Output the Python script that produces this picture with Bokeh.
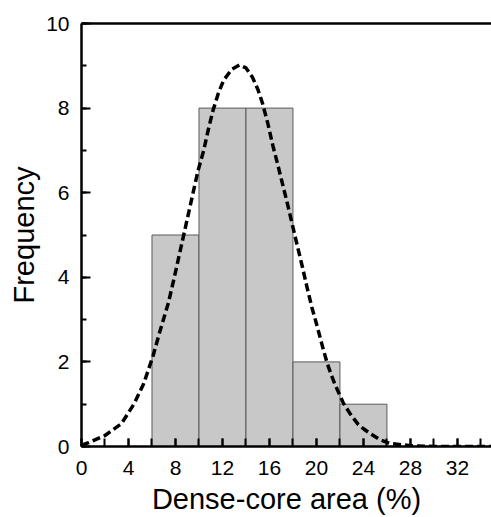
from bokeh.plotting import figure
from bokeh.models import Range1d, SingleIntervalTicker, LinearAxis
from bokeh.embed import file_html
from bokeh.resources import INLINE

# Histogram data
bin_left = [6, 10, 14, 18, 22]
bin_right = [10, 14, 18, 22, 26]
counts = [5, 8, 8, 2, 1]

# Fitted curve
curve_x = [0, 0.6, 2.0, 3.4, 4.5, 5.3, 6.1, 6.6, 7.4, 7.9, 8.3, 8.7, 9.1, 9.5, 9.9, 10.4,
           10.8, 11.2, 11.65, 12.1, 12.8, 13.45, 14.0, 14.55, 15.0, 15.4, 15.85, 16.3, 16.7,
           17.1, 17.45, 17.8, 18.4, 18.8, 19.2, 19.6, 20.1, 20.5, 20.9, 21.25, 21.6, 22.3,
           22.9, 23.5, 24.0, 24.6, 25.4, 26.3, 28, 30, 32, 35]
curve_y = [0.03, 0.09, 0.26, 0.54, 1.02, 1.49, 2.15, 2.65, 3.4, 4.0, 4.5, 5.0, 5.5, 6.0, 6.5,
           7.0, 7.5, 7.95, 8.35, 8.66, 8.92, 9.02, 8.95, 8.73, 8.45, 8.12, 7.65, 7.1, 6.67,
           6.22, 5.83, 5.42, 4.71, 4.25, 3.76, 3.3, 2.8, 2.38, 1.98, 1.7, 1.45, 1.02, 0.76,
           0.54, 0.42, 0.3, 0.16, 0.07, 0.02, 0.0, 0.0, 0.0]

FONT = "Liberation Sans"

p = figure(width=491, height=517, output_backend="svg", toolbar_location=None,
           x_range=Range1d(0, 34.9), y_range=Range1d(0, 10),
           min_border_left=81, min_border_right=0, min_border_top=23, min_border_bottom=71,
           x_axis_label="Dense-core area (%)", y_axis_label="Frequency")
p.outline_line_color = None
p.xgrid.visible = False
p.ygrid.visible = False
p.background_fill_color = "white"
p.border_fill_color = "white"

p.quad(left=bin_left, right=bin_right, top=counts, bottom=0,
       fill_color="#c8c8c8", line_color="#5a5a5a", line_width=1)

p.line(curve_x, curve_y, line_color="black", line_width=3.5, line_dash="8 4",
       line_join="round")

# x axis
xa = p.xaxis[0]
xa.ticker = SingleIntervalTicker(interval=4, num_minor_ticks=2)
# y axis
ya = p.yaxis[0]
ya.ticker = SingleIntervalTicker(interval=2, num_minor_ticks=2)

for ax in (xa, ya):
    ax.axis_line_width = 2.5
    ax.axis_line_color = "black"
    ax.major_tick_in = 9
    ax.major_tick_out = 0
    ax.minor_tick_out = 0
    ax.major_tick_line_width = 2
    ax.minor_tick_line_width = 2
    ax.major_tick_line_color = "black"
    ax.minor_tick_line_color = "black"
    ax.major_label_text_font = FONT
    ax.major_label_text_font_size = "21px"
    ax.major_label_text_color = "black"
    ax.axis_label_text_font = FONT
    ax.axis_label_text_font_size = "29px"
    ax.axis_label_text_font_style = "normal"
    ax.axis_label_text_color = "black"

xa.minor_tick_in = 8
xa.major_tick_in = 8
ya.minor_tick_in = 5
xa.major_label_standoff = 14
xa.axis_label_standoff = 5
ya.major_label_standoff = 12
ya.axis_label_standoff = 3

top = LinearAxis(major_tick_in=0, major_tick_out=0, minor_tick_in=0, minor_tick_out=0,
                 major_label_text_font_size="0px", axis_line_width=2.5,
                 axis_line_color="black")
top.major_label_text_alpha = 0
p.add_layout(top, "above")

open("out.html", "w").write(file_html(p, INLINE))
